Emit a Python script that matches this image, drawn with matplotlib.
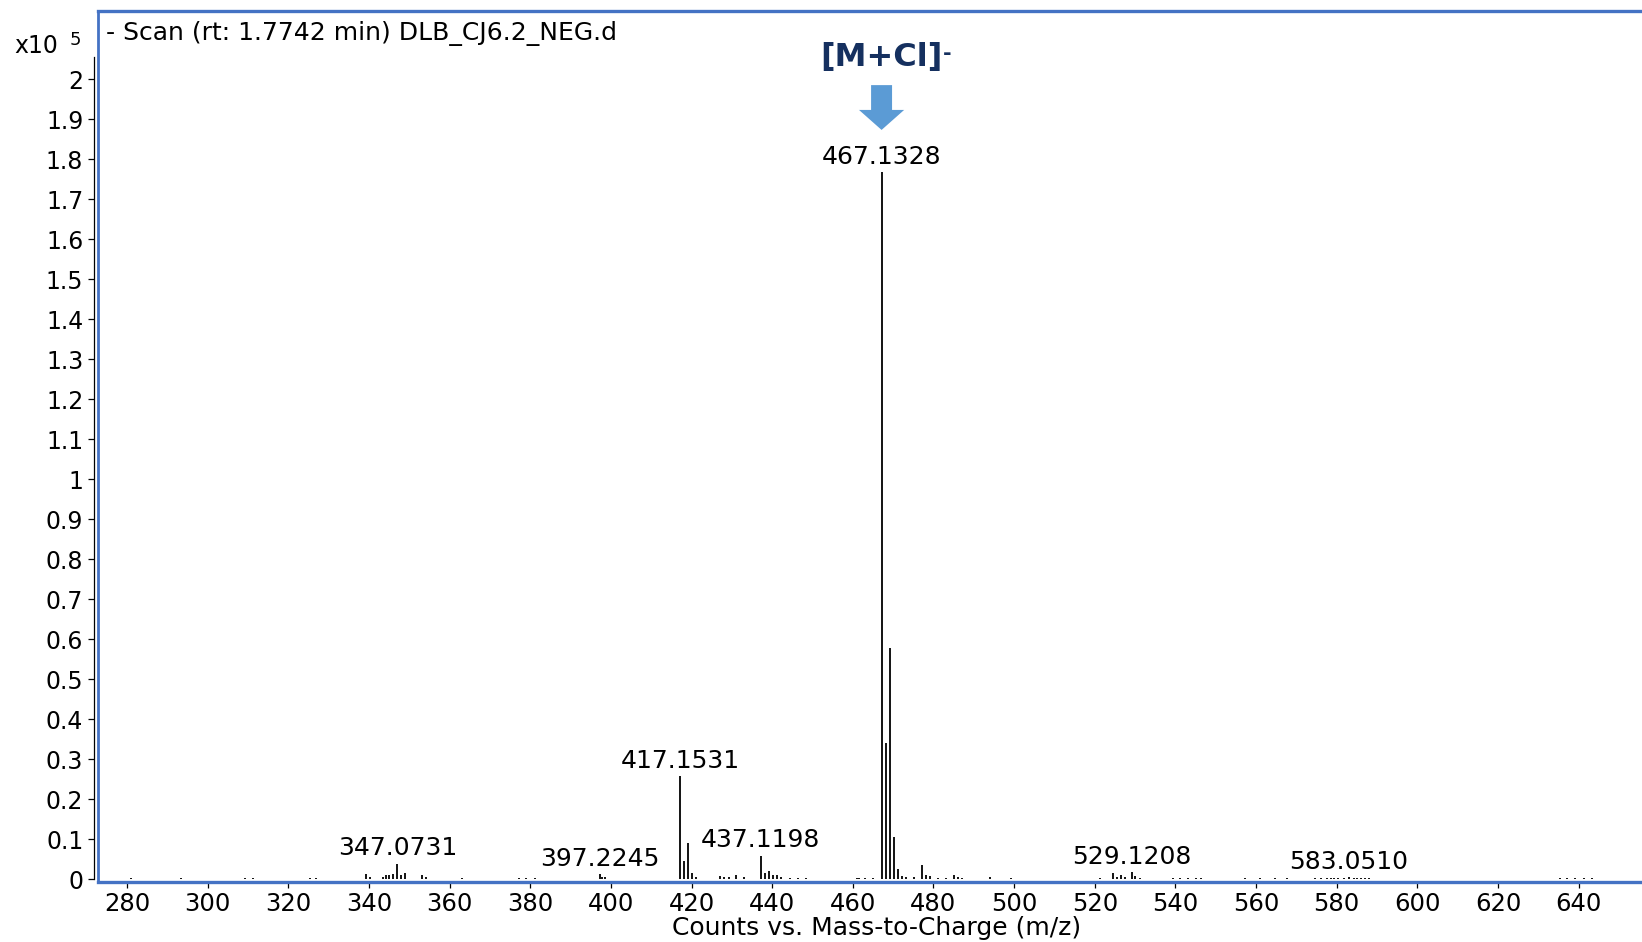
import matplotlib
matplotlib.use("Agg")
import matplotlib.pyplot as plt
from matplotlib.patches import Polygon
from matplotlib.lines import Line2D
from matplotlib.ticker import FuncFormatter

plt.rcParams['font.family'] = ['DejaVu Sans']

# Centroided negative-ion spectrum (intensity in units of 1e5 counts)
mz = [280.9, 293.3, 309.2, 311.3, 325.3, 326.9,
      339.2, 340.3, 343.4, 344.3, 345.1, 346.1, 347.0731, 348.0, 349.0,
      353.2, 354.2, 363.1, 377.1, 378.9, 381.2,
      397.2245, 397.9, 398.6,
      417.1531, 418.16, 419.15, 420.15, 421.15,
      427.1, 428.1, 429.2, 431.1, 433.1,
      437.1198, 438.12, 439.12, 440.1, 441.1, 442.1, 444.5, 446.5, 448.5,
      461.0, 461.6, 463.0, 465.1,
      467.1328, 468.14, 469.13, 470.13, 471.13, 472.2, 473.2, 475.1,
      477.1, 478.2, 479.2, 481.1, 483.1, 485.2, 486.2, 487.1,
      494.1, 499.2,
      521.2, 524.6, 525.6, 526.6, 527.6, 529.1208, 530.1, 531.1,
      539.3, 541.2, 543.1, 545.0, 546.4,
      557.3, 561.0, 564.8, 567.6,
      574.5, 576.1, 577.5, 578.5, 579.4, 580.4, 581.8, 583.0510, 584.2, 585.1, 586.0, 587.0, 588.0,
      635.3, 637.1, 639.2, 641.2, 643.3]
intensity = [0.004, 0.003, 0.003, 0.003, 0.004, 0.004,
             0.013, 0.006, 0.007, 0.012, 0.010, 0.014, 0.039, 0.012, 0.016,
             0.012, 0.005, 0.004, 0.004, 0.004, 0.004,
             0.013, 0.006, 0.005,
             0.2585, 0.046, 0.091, 0.015, 0.006,
             0.008, 0.005, 0.006, 0.010, 0.006,
             0.059, 0.016, 0.022, 0.010, 0.011, 0.007, 0.004, 0.004, 0.003,
             0.004, 0.004, 0.004, 0.003,
             1.768, 0.341, 0.579, 0.106, 0.025, 0.008, 0.007, 0.005,
             0.037, 0.012, 0.008, 0.004, 0.004, 0.011, 0.005, 0.004,
             0.005, 0.004,
             0.003, 0.016, 0.007, 0.010, 0.006, 0.018, 0.008, 0.004,
             0.004, 0.004, 0.004, 0.004, 0.004,
             0.003, 0.003, 0.003, 0.003,
             0.003, 0.004, 0.004, 0.003, 0.004, 0.003, 0.004, 0.006, 0.004, 0.004, 0.004, 0.004, 0.003,
             0.003, 0.003, 0.003, 0.003, 0.003]

# Peaks annotated with their accurate mass
labelled_mz = [347.0731, 397.2245, 417.1531, 437.1198, 467.1328, 529.1208, 583.0510]

x_ticks = list(range(280, 641, 20))
y_ticks = [i / 10 for i in range(0, 21)]

W, H = 1642, 942
fig = plt.figure(figsize=(W / 100, H / 100), dpi=100)
fig.patch.set_facecolor('white')

left, right, top, bottom = 98.3, 1642, 10.7, 882.0
ax = fig.add_axes([left / W, 1 - bottom / H, (right - left) / W, (bottom - top) / H])
ax.set_xlim(272.9, 655.7)
ax.set_ylim(-0.0067, 2.171)

frame_blue = '#4472C4'
ax.vlines(mz, 0, intensity, colors='black', linewidth=1.3)

# spines: blue frame (left/top/bottom), y ticks on a separate black axis line
for s in ('right', 'top', 'left'):
    ax.spines[s].set_visible(False)
ax.spines['bottom'].set_color(frame_blue)
ax.spines['bottom'].set_linewidth(2.4)
ax.add_line(Line2D([0, 0], [0, 1], transform=ax.transAxes, color=frame_blue,
                   linewidth=2.0, clip_on=False))
ax.add_line(Line2D([0, 1], [1, 1], transform=ax.transAxes, color=frame_blue,
                   linewidth=2.4, clip_on=False))

ax.spines['left'].set_visible(True)
ax.spines['left'].set_position(('outward', 3))
ax.spines['left'].set_color('black')
ax.spines['left'].set_linewidth(0.9)
ax.spines['left'].set_bounds(0, 2.055)

ax.set_xticks(x_ticks)
ax.set_yticks(y_ticks)
ax.yaxis.set_major_formatter(FuncFormatter(lambda v, p: f"{v:g}"))
ax.tick_params(axis='x', direction='out', length=4.5, width=0.9, color='black',
               labelsize=17.5, pad=3)
ax.tick_params(axis='y', direction='out', length=4.3, width=0.9, color='black',
               labelsize=17, pad=3.5)

# peak labels
for m in labelled_mz:
    h = intensity[mz.index(m)]
    ax.annotate(f"{m:.4f}", xy=(m, h), xytext=(0, 6), textcoords='offset points',
                ha='center', va='baseline', fontsize=18)

# adduct marker with arrow above the base peak
base = 467.1328
t = ax.text(base, 2.053, "[M+Cl]", ha='center', va='center', fontsize=23,
            fontweight='bold', color='#15305F')
ax.annotate("-", xy=(1, 1), xycoords=t, xytext=(0, -1), textcoords='offset points',
            ha='left', va='top', fontsize=15, fontweight='bold', color='#15305F')
shaft, head = 2.6, 5.6
y_top, y_neck, y_tip = 1.985, 1.923, 1.873
arrow = Polygon([(base - shaft, y_top), (base + shaft, y_top), (base + shaft, y_neck),
                 (base + head, y_neck), (base, y_tip), (base - head, y_neck),
                 (base - shaft, y_neck)], closed=True, facecolor='#5B9BD5',
                edgecolor='none', transform=ax.transData, clip_on=False)
ax.add_patch(arrow)

fig.text(106 / W, 1 - 33 / H, "- Scan (rt: 1.7742 min) DLB_CJ6.2_NEG.d",
         ha='left', va='center', fontsize=18)
fig.text(58 / W, 1 - 46 / H, "x10", ha='right', va='center', fontsize=17)
fig.text(70 / W, 1 - 40 / H, "5", ha='left', va='center', fontsize=13)
fig.text(877 / W, 1 - 928 / H, "Counts vs. Mass-to-Charge (m/z)",
         ha='center', va='center', fontsize=18)

fig.savefig("out.png", dpi=100, facecolor='white')
